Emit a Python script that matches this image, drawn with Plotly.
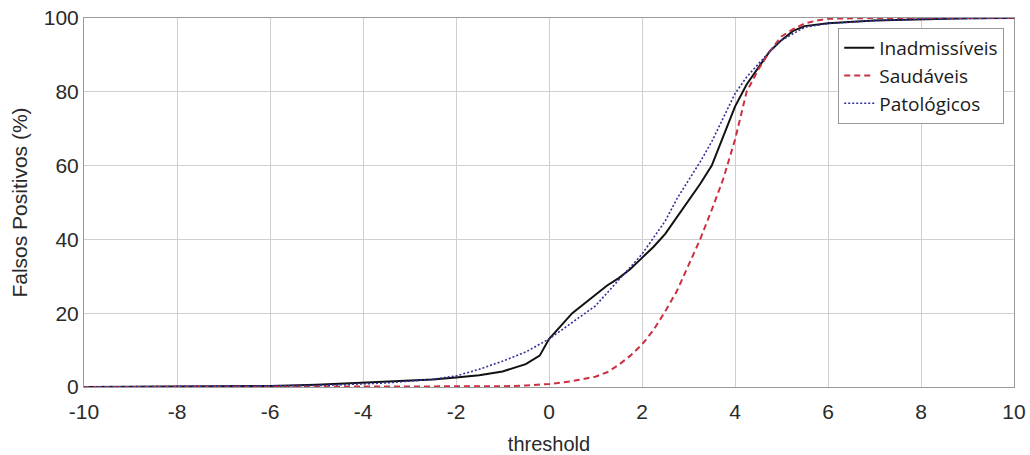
import plotly.graph_objects as go

inad_x = [-10, -8, -6, -5, -4.5, -4, -3.5, -3, -2.5, -2, -1.5, -1, -0.5, -0.2, 0, 0.25, 0.5, 0.75, 1, 1.25, 1.5, 1.75, 2,
          2.25, 2.5, 2.75, 3, 3.25, 3.5, 3.75, 4, 4.25, 4.5, 4.75, 5, 5.25, 5.5, 6, 7, 8, 9, 10]
inad_y = [0, 0.1, 0.3, 0.6, 0.9, 1.2, 1.4, 1.7, 2.0, 2.6, 3.2, 4.2, 6.2, 8.5, 13, 16.5, 20, 22.5, 25, 27.5, 29.5, 32, 35,
          38, 41.5, 46, 50.5, 55, 60, 68, 76, 82, 86.5, 91, 94, 96.5, 97.8, 98.6, 99.3, 99.7, 99.9, 100]

saud_x = [-10, -4, -2, -1, -0.5, 0, 0.5, 1, 1.25, 1.5, 1.75, 2, 2.25, 2.5, 2.75, 3, 3.25, 3.5, 3.75, 4, 4.25, 4.5,
          4.75, 5, 5.25, 5.5, 5.75, 6, 7, 10]
saud_y = [0, 0, 0.05, 0.2, 0.4, 0.8, 1.6, 2.8, 4, 6, 8.5, 11.5, 15.5, 20.5, 26, 33, 40, 48, 56.5, 67, 80, 86, 91, 95,
          97, 98.5, 99.3, 99.8, 100, 100]

pato_x = [-10, -8, -6, -5, -4.5, -4, -3.5, -3, -2.5, -2, -1.5, -1, -0.5, 0, 0.5, 1, 1.5, 2, 2.25, 2.5, 2.75, 3, 3.25,
          3.5, 3.75, 4, 4.25, 4.5, 4.75, 5, 5.5, 6, 7, 8, 10]
pato_y = [0, 0.1, 0.2, 0.4, 0.6, 0.8, 1.1, 1.6, 2.1, 3.0, 4.8, 7, 9.5, 13, 17.5, 22, 29, 36, 40.5, 45, 51, 56, 61,
          66.5, 73, 79.5, 84, 87.5, 91, 94, 97.5, 98.5, 99.3, 99.7, 100]

x_ticks = [-10, -8, -6, -4, -2, 0, 2, 4, 6, 8, 10]
x_tick_text = ["-10", "-8", "-6", "-4", "-2", "0", "2", "4", "6", "8", "10"]
y_ticks = [0, 20, 40, 60, 80, 100]
y_tick_text = ["0", "20", "40", "60", "80", "100"]

fig = go.Figure()
fig.add_trace(go.Scatter(x=inad_x, y=inad_y, mode="lines", name="Inadmissíveis",
                         line=dict(color="#111111", width=2)))
fig.add_trace(go.Scatter(x=saud_x, y=saud_y, mode="lines", name="Saudáveis",
                         line=dict(color="#cc3040", width=2, dash="6px,4px")))
fig.add_trace(go.Scatter(x=pato_x, y=pato_y, mode="lines", name="Patológicos",
                         line=dict(color="#30309a", width=1.6, dash="2px,2px")))

font_main = "Liberation Sans, Arial"
axis_common = dict(showgrid=True, gridcolor="#cfcfcf", gridwidth=1, zeroline=False,
                   showline=True, linecolor="#9a9a9a", linewidth=1, mirror=True,
                   ticks="", automargin=False,
                   tickfont=dict(family=font_main, size=21, color="#2a2a2a"))

fig.update_layout(
    width=1030, height=455,
    margin=dict(l=84, r=16, t=18, b=68),
    paper_bgcolor="white", plot_bgcolor="white",
    xaxis=dict(range=[-10, 10], tickvals=x_ticks, ticktext=x_tick_text, ticklabelstandoff=6,
               title=dict(text="threshold", font=dict(family=font_main, size=20, color="#2a2a2a"),
                          standoff=16),
               **axis_common),
    yaxis=dict(range=[0, 100], tickvals=y_ticks, ticktext=y_tick_text,
               title=dict(text="Falsos Positivos (%)", font=dict(family=font_main, size=21, color="#2a2a2a"),
                          standoff=10),
               **axis_common),
    legend=dict(x=0.811, y=0.973, xanchor="left", yanchor="top",
                bgcolor="white", bordercolor="#9a9a9a", borderwidth=1,
                font=dict(family="Open Sans, Noto Sans", size=19, color="#1a1a1a"),
                tracegroupgap=0, itemwidth=30),
    showlegend=True,
)

fig.write_html("out.html")
